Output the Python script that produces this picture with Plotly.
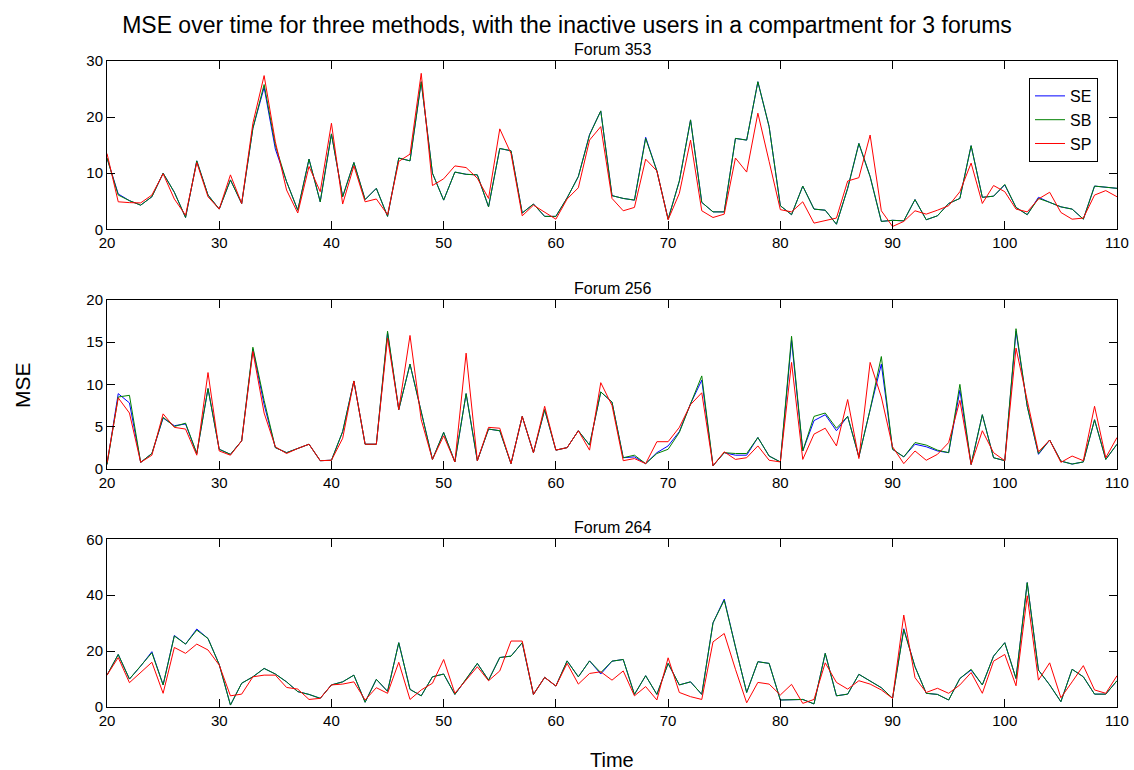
import plotly.graph_objects as go

time = list(range(20, 111))

# ---------- Forum 353 ----------
f353_SB = [12.7, 6.1, 5.1, 4.3, 5.8, 10.0, 6.6, 2.1, 12.2, 6.1,
           3.6, 8.8, 4.6, 18.0, 25.8, 15.0, 8.5, 3.4, 12.5, 4.9,
           17.0, 5.8, 11.9, 5.3, 7.3, 2.3, 12.7, 12.2, 26.3, 10.0,
           5.2, 10.2, 9.8, 9.7, 4.0, 14.4, 14.0, 2.9, 4.5, 2.3,
           2.3, 5.6, 9.4, 16.8, 21.1, 6.0, 5.5, 5.2, 16.2, 10.4,
           1.8, 8.6, 19.5, 4.8, 3.1, 3.1, 16.2, 15.9, 26.3, 18.3,
           4.2, 2.6, 7.7, 3.6, 3.4, 0.9, 7.3, 15.3, 9.4, 1.4,
           1.6, 1.5, 5.3, 1.7, 2.4, 4.6, 5.5, 14.9, 5.7, 5.9,
           8.0, 3.9, 2.6, 5.5, 4.8, 4.0, 3.6, 1.8, 7.7, 7.5,
           7.3]
f353_SE = [12.7, 6.3, 5.1, 4.3, 5.8, 10.0, 6.6, 2.1, 12.2, 6.1,
           3.6, 8.8, 4.6, 18.0, 25.3, 14.3, 8.5, 3.4, 12.5, 4.9,
           17.0, 5.8, 11.9, 5.3, 7.3, 2.3, 12.7, 12.2, 26.3, 10.0,
           5.2, 10.2, 9.8, 9.7, 4.0, 14.4, 14.0, 2.9, 4.5, 2.3,
           2.3, 5.6, 9.4, 16.9, 21.1, 6.0, 5.5, 5.2, 16.4, 10.4,
           1.8, 8.6, 19.5, 4.8, 3.1, 3.1, 16.2, 15.9, 26.3, 18.3,
           4.2, 2.6, 7.7, 3.6, 3.4, 0.9, 7.3, 15.3, 9.4, 1.4,
           1.6, 1.5, 5.3, 1.7, 2.4, 4.6, 5.5, 14.9, 5.7, 5.9,
           7.9, 3.9, 2.6, 5.7, 4.8, 4.0, 3.6, 1.8, 7.7, 7.5,
           7.3]
f353_SP = [13.5, 4.9, 4.75, 4.7, 6.1, 9.9, 5.4, 2.5, 11.9, 5.8,
           3.6, 9.7, 4.6, 18.9, 27.4, 15.6, 7.0, 2.9, 11.2, 6.7,
           18.9, 4.5, 11.3, 4.9, 5.4, 2.6, 12.1, 13.4, 27.8, 7.8,
           9.0, 11.3, 11.0, 9.1, 5.5, 17.9, 13.5, 2.4, 4.3, 3.1,
           1.8, 5.4, 7.4, 15.9, 18.3, 5.5, 3.3, 3.9, 12.5, 10.4,
           1.7, 6.4, 15.9, 3.3, 2.1, 2.7, 12.7, 10.2, 20.7, 12.1,
           3.5, 3.1, 4.9, 1.1, 1.5, 2.0, 8.6, 9.2, 16.8, 3.3,
           0.5, 1.4, 3.3, 2.7, 3.4, 4.2, 6.7, 11.8, 4.6, 7.8,
           6.7, 3.6, 3.1, 5.4, 6.6, 3.0, 1.8, 2.0, 6.1, 6.9,
           5.8]

# ---------- Forum 256 ----------
f256_SB = [0.5, 8.5, 8.7, 0.75, 1.8, 6.1, 5.0, 5.4, 1.8, 9.5,
           2.3, 1.7, 3.3, 14.4, 8.1, 2.5, 1.9, 2.4, 2.9, 0.95,
           1.0, 4.4, 10.4, 2.9, 2.9, 16.3, 7.0, 12.4, 6.6, 1.1,
           4.3, 0.8, 8.9, 0.95, 4.7, 4.5, 0.6, 6.2, 1.9, 7.0,
           2.2, 2.5, 4.5, 2.8, 9.1, 7.9, 1.3, 1.6, 0.6, 1.8,
           2.3, 4.3, 7.7, 11.0, 0.35, 1.9, 1.8, 1.8, 3.7, 1.5,
           0.8, 15.7, 2.1, 6.2, 6.6, 4.8, 6.2, 1.4, 7.0, 13.3,
           2.3, 1.4, 3.1, 2.8, 2.2, 1.9, 10.0, 0.5, 6.4, 1.3,
           0.95, 16.6, 7.4, 1.8, 3.4, 0.9, 0.55, 0.8, 5.8, 1.1,
           2.9]
f256_SE = [0.5, 8.9, 7.8, 0.75, 1.8, 6.0, 5.1, 5.3, 1.8, 9.5,
           2.3, 1.7, 3.3, 14.2, 7.6, 2.5, 1.9, 2.4, 2.9, 0.95,
           1.0, 4.4, 10.4, 2.9, 2.9, 16.1, 7.0, 12.4, 6.6, 1.1,
           4.3, 0.8, 8.9, 0.95, 4.7, 4.5, 0.6, 6.2, 1.9, 7.0,
           2.2, 2.5, 4.5, 2.8, 9.1, 7.9, 1.3, 1.4, 0.6, 1.9,
           2.7, 4.4, 7.7, 10.5, 0.35, 1.9, 1.6, 1.6, 3.7, 1.5,
           0.8, 15.2, 2.1, 5.7, 6.4, 4.5, 6.2, 1.4, 7.0, 12.4,
           2.3, 1.4, 2.9, 2.6, 2.1, 1.9, 9.3, 0.5, 6.4, 1.3,
           0.95, 16.3, 7.4, 1.7, 3.4, 0.9, 0.55, 0.8, 5.8, 1.1,
           2.9]
f256_SP = [0.7, 8.4, 6.6, 0.75, 1.6, 6.5, 4.9, 4.7, 1.6, 11.4,
           2.1, 1.6, 3.3, 13.9, 6.6, 2.6, 1.8, 2.4, 2.9, 0.95,
           1.0, 3.6, 10.4, 2.9, 2.9, 15.5, 7.0, 15.8, 5.8, 1.1,
           3.9, 0.8, 13.7, 0.95, 4.9, 4.8, 0.6, 6.2, 1.9, 7.4,
           2.2, 2.5, 4.5, 2.2, 10.2, 7.5, 0.95, 1.2, 0.6, 3.2,
           3.2, 4.9, 7.6, 9.0, 0.35, 2.0, 1.1, 1.3, 2.7, 1.0,
           0.8, 12.6, 1.1, 4.1, 4.8, 2.7, 8.2, 1.2, 12.6, 8.5,
           2.6, 0.6, 2.1, 1.0, 1.7, 3.1, 8.1, 0.5, 4.5, 1.9,
           0.95, 14.3, 8.1, 2.0, 3.4, 0.75, 1.5, 0.95, 7.4, 1.3,
           3.7]

# ---------- Forum 264 ----------
f264_SB = [11.4, 18.8, 10.0, 14.6, 19.4, 7.9, 25.4, 22.5, 27.5, 24.5,
           15.2, 0.7, 8.5, 10.8, 13.8, 11.8, 9.0, 5.5, 4.5, 3.1,
           7.9, 9.0, 11.4, 1.7, 9.9, 5.6, 23.0, 6.3, 4.0, 10.8,
           11.8, 4.5, 9.9, 15.6, 9.6, 17.7, 18.2, 23.0, 4.5, 10.6,
           7.5, 16.5, 10.8, 16.5, 12.3, 16.4, 17.0, 4.5, 11.2, 4.5,
           15.6, 7.9, 9.0, 4.5, 30.1, 38.2, 21.5, 5.2, 16.2, 15.6,
           2.5, 2.5, 2.7, 1.1, 19.2, 4.0, 4.6, 11.7, 9.4, 6.9,
           3.1, 27.7, 14.4, 4.9, 4.5, 2.5, 10.2, 13.5, 7.9, 18.2,
           23.0, 10.2, 44.5, 13.2, 7.9, 1.9, 13.5, 10.8, 4.6, 4.6,
           9.4]
f264_SE = [11.4, 18.8, 10.0, 14.6, 19.8, 7.9, 25.6, 22.5, 27.9, 24.5,
           15.2, 0.7, 8.5, 10.8, 13.8, 11.8, 9.0, 5.5, 4.5, 3.1,
           7.9, 9.0, 11.4, 1.7, 9.9, 5.6, 23.0, 6.3, 4.0, 10.8,
           11.8, 4.5, 9.9, 15.6, 9.6, 17.7, 18.2, 23.0, 4.5, 10.6,
           7.5, 16.5, 10.8, 16.5, 11.8, 16.4, 17.0, 4.5, 11.2, 4.5,
           15.6, 7.9, 9.0, 4.5, 30.1, 38.6, 21.5, 5.2, 16.2, 15.6,
           2.5, 2.5, 2.7, 1.1, 19.2, 4.0, 4.6, 11.7, 9.4, 6.9,
           3.1, 28.0, 14.4, 4.9, 4.5, 2.5, 10.2, 13.2, 7.9, 18.2,
           23.0, 10.2, 44.5, 13.2, 7.9, 1.9, 13.5, 10.8, 4.6, 4.6,
           9.4]
f264_SP = [11.4, 17.7, 8.7, 12.3, 16.0, 4.9, 21.3, 19.2, 22.5, 20.4,
           15.0, 4.0, 4.6, 10.8, 11.4, 11.4, 7.0, 6.4, 2.7, 3.1,
           7.9, 8.2, 9.0, 2.5, 6.9, 4.9, 16.0, 2.7, 6.1, 8.5,
           17.0, 4.9, 9.6, 14.4, 9.4, 12.9, 23.6, 23.6, 4.5, 10.6,
           7.5, 15.6, 8.2, 12.0, 12.6, 9.6, 12.9, 4.0, 7.3, 2.5,
           17.6, 5.2, 3.7, 2.7, 23.3, 26.3, 13.5, 1.5, 8.8, 8.2,
           4.3, 8.1, 1.3, 2.7, 15.8, 8.8, 6.4, 9.4, 8.2, 6.1,
           3.1, 32.9, 10.5, 5.2, 6.7, 4.9, 7.9, 12.3, 4.9, 16.4,
           18.8, 7.6, 39.8, 9.6, 15.8, 3.3, 9.0, 14.8, 6.1, 4.9,
           11.2]

forums = ["Forum 353", "Forum 256", "Forum 264"]
series = [
    (f353_SE, f353_SB, f353_SP),
    (f256_SE, f256_SB, f256_SP),
    (f264_SE, f264_SB, f264_SP),
]
y_ranges = [[0, 30], [0, 20], [0, 60]]
y_ticks = [[0, 10, 20, 30], [0, 5, 10, 15, 20], [0, 20, 40, 60]]
x_ticks = list(range(20, 111, 10))
names = ["SE", "SB", "SP"]
colors = ["#0000ff", "#008000", "#ff0000"]

domains = [[0.7395, 1.0], [0.3689, 0.630], [0.0, 0.2596]]

FONT = "Liberation Sans, Arial, sans-serif"

fig = go.Figure()
for i, trio in enumerate(series):
    xa = "x" if i == 0 else f"x{i+1}"
    ya = "y" if i == 0 else f"y{i+1}"
    for j, vals in enumerate(trio):
        fig.add_trace(go.Scatter(
            x=time, y=vals, mode="lines", name=names[j],
            line=dict(color=colors[j], width=1),
            xaxis=xa, yaxis=ya, showlegend=(i == 0),
        ))

axis_common = dict(
    showline=True, linecolor="black", linewidth=1, mirror="ticks",
    ticks="inside", ticklen=8, tickcolor="black", tickwidth=1,
    showgrid=False, zeroline=False, automargin=False,
    tickfont=dict(family=FONT, size=15, color="black"),
)

layout = dict(
    width=1134, height=770,
    margin=dict(l=107, r=17, t=61, b=63, autoexpand=False),
    paper_bgcolor="white", plot_bgcolor="white",
    font=dict(family=FONT, color="black"),
    title=dict(
        text="MSE over time for three methods, with the inactive users in a compartment for 3 forums",
        x=0.5, xref="container", xanchor="center",
        y=1 - 25 / 770, yref="container", yanchor="middle",
        font=dict(family=FONT, size=23, color="black"),
    ),
    legend=dict(
        x=(1029 - 107) / 1010, y=0.9737, xanchor="left", yanchor="top",
        bgcolor="white", bordercolor="black", borderwidth=1,
        font=dict(family=FONT, size=16, color="black"),
        itemwidth=30, tracegroupgap=0,
    ),
    showlegend=True,
)

annotations = []
for i in range(3):
    xk = "xaxis" if i == 0 else f"xaxis{i+1}"
    yk = "yaxis" if i == 0 else f"yaxis{i+1}"
    anchor_y = "y" if i == 0 else f"y{i+1}"
    anchor_x = "x" if i == 0 else f"x{i+1}"
    layout[xk] = dict(axis_common, range=[20, 110], tickvals=x_ticks,
                      domain=[0, 1], anchor=anchor_y)
    layout[yk] = dict(axis_common, range=y_ranges[i], tickvals=y_ticks[i],
                      domain=domains[i], anchor=anchor_x)
    annotations.append(dict(
        text=forums[i], xref="paper", yref="paper", x=0.5, y=domains[i][1],
        xanchor="center", yanchor="bottom", yshift=1, showarrow=False,
        font=dict(family=FONT, size=16, color="black"),
    ))

annotations.append(dict(
    text="MSE", xref="paper", yref="paper", x=(22 - 107) / 1010, y=(707 - 385) / 646,
    xanchor="center", yanchor="middle", textangle=-90, showarrow=False,
    font=dict(family=FONT, size=21, color="black"),
))
annotations.append(dict(
    text="Time", xref="paper", yref="paper", x=0.5, y=(707 - 760) / 646,
    xanchor="center", yanchor="middle", showarrow=False,
    font=dict(family=FONT, size=20, color="black"),
))
layout["annotations"] = annotations

fig.update_layout(**layout)
fig.write_html("out.html")
